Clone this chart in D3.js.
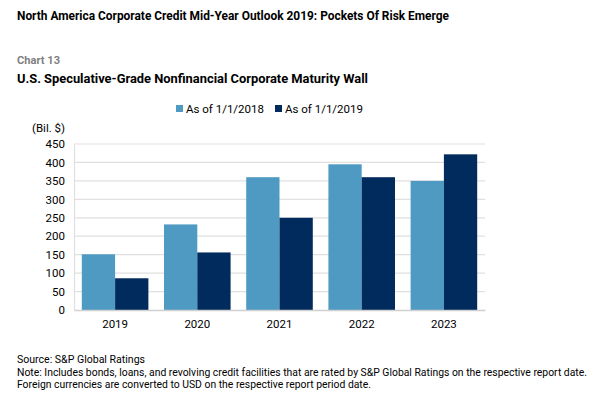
<!DOCTYPE html>
<html>
<head>
<meta charset="utf-8">
<script src="https://cdn.jsdelivr.net/npm/d3@7"></script>
<style>
  body { margin: 0; background: #fff; }
  svg { display: block; font-family: "Roboto", "Liberation Sans", sans-serif; }
</style>
</head>
<body>
<svg id="chart" width="599" height="398"></svg>
<script>
// chart values
var years = ["2019", "2020", "2021", "2022", "2023"];
var series = ["As of 1/1/2018", "As of 1/1/2019"];
var asOf2018 = [151, 232, 360, 395, 350];
var asOf2019 = [86, 156, 250, 360, 422];
var yTicks = [0, 50, 100, 150, 200, 250, 300, 350, 400, 450];
var colors = ["#4f9ac2", "#002b5c"];

var svg = d3.select("#chart");
var margin = {left: 74, right: 114, top: 144, bottom: 88};
var width = 599 - margin.left - margin.right,
    height = 398 - margin.top - margin.bottom;

// titles (the original face is condensed, so fit to its width)
svg.append("text").attr("x", 17).attr("y", 20)
    .attr("font-size", 12.5).attr("font-weight", "bold").attr("fill", "#000")
    .attr("textLength", 432).attr("lengthAdjust", "spacingAndGlyphs")
    .text("North America Corporate Credit Mid-Year Outlook 2019: Pockets Of Risk Emerge");
svg.append("text").attr("x", 17).attr("y", 64)
    .attr("font-size", 11).attr("font-weight", "bold").attr("fill", "#7f7f7f")
    .attr("textLength", 43).attr("lengthAdjust", "spacingAndGlyphs")
    .text("Chart 13");
svg.append("text").attr("x", 17).attr("y", 83)
    .attr("font-size", 12.5).attr("font-weight", "bold").attr("fill", "#000")
    .attr("textLength", 351).attr("lengthAdjust", "spacingAndGlyphs")
    .text("U.S. Speculative-Grade Nonfinancial Corporate Maturity Wall");

var g = svg.append("g").attr("transform", "translate(" + margin.left + "," + margin.top + ")");

var x0 = d3.scaleBand().domain(years).range([0, width]).paddingInner(0.19).paddingOuter(0.095);
var x1 = d3.scaleBand().domain(series).range([0, x0.bandwidth()]);
var y = d3.scaleLinear().domain([0, 450]).range([height, 0]);

// gridlines
g.selectAll(".grid").data(yTicks.slice(1)).enter().append("line")
    .attr("x1", 0).attr("x2", width)
    .attr("y1", function(d) { return y(d); }).attr("y2", function(d) { return y(d); })
    .attr("stroke", "#e0e0e0").attr("stroke-width", 1.2);

// y axis
var yAxis = g.append("g").call(d3.axisLeft(y).tickValues(yTicks).tickSize(0).tickPadding(9));
yAxis.select(".domain").attr("stroke", "#e0e0e0").attr("stroke-width", 1.2);
yAxis.selectAll("text").attr("font-size", 11.5).attr("fill", "#000")
    .attr("font-family", "Roboto, 'Liberation Sans', sans-serif");

// bars
var table = years.map(function(yr, i) { return {year: yr, values: [asOf2018[i], asOf2019[i]]}; });
var grp = g.selectAll(".yr").data(table).enter().append("g")
    .attr("transform", function(d) { return "translate(" + x0(d.year) + ",0)"; });
grp.selectAll("rect").data(function(d) { return d.values.map(function(v, j) { return {s: series[j], v: v, c: colors[j]}; }); })
  .enter().append("rect")
    .attr("x", function(d) { return x1(d.s); })
    .attr("width", x1.bandwidth())
    .attr("y", function(d) { return y(d.v); })
    .attr("height", function(d) { return height - y(d.v); })
    .attr("fill", function(d) { return d.c; });

// x axis
var xAxis = g.append("g").attr("transform", "translate(0," + height + ")")
    .call(d3.axisBottom(x0).tickSize(0).tickPadding(10));
xAxis.select(".domain").attr("stroke", "#d0d0d0").attr("stroke-width", 1.5);
xAxis.selectAll("text").attr("font-size", 11.5).attr("fill", "#000")
    .attr("font-family", "Roboto, 'Liberation Sans', sans-serif");

// unit label
svg.append("text").attr("x", 32).attr("y", 132)
    .attr("font-size", 11.5).attr("fill", "#000")
    .text("(Bil. $)");

// legend
var legendX = [176, 275];
var lg = svg.selectAll(".lg").data(series).enter().append("g")
    .attr("transform", function(d, i) { return "translate(" + legendX[i] + ",105)"; });
lg.append("rect").attr("width", 7).attr("height", 7)
    .attr("fill", function(d, i) { return colors[i]; });
lg.append("text").attr("x", 10).attr("y", 7.5)
    .attr("font-size", 11.5).attr("fill", "#000")
    .text(function(d) { return d; });

// footnotes
var notes = ["Source: S&P Global Ratings",
  "Note: Includes bonds, loans, and revolving credit facilities that are rated by S&P Global Ratings on the respective report date.",
  "Foreign currencies are converted to USD on the respective report period date."];
var noteLen = [128, 570, 354];
svg.selectAll(".note").data(notes).enter().append("text")
    .attr("x", 17).attr("y", function(d, i) { return 363 + i * 12.5; })
    .attr("font-size", 10.5).attr("fill", "#000")
    .attr("textLength", function(d, i) { return noteLen[i]; })
    .attr("lengthAdjust", "spacingAndGlyphs")
    .text(function(d) { return d; });
</script>
</body>
</html>
